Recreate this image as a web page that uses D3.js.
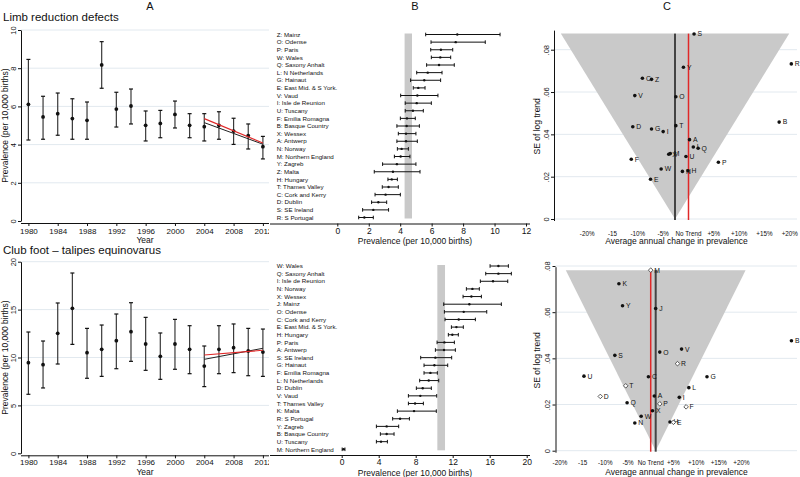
<!DOCTYPE html>
<html><head><meta charset="utf-8">
<script src="https://cdn.jsdelivr.net/npm/d3@7"></script>
<style>body{margin:0;background:#fff}svg text{font-family:"Liberation Sans",Arial,sans-serif;fill:#111}</style>
</head><body><svg id="c" width="800" height="477"></svg>
<script>
// ---------------- DATA ----------------
const years = [1980,1982,1984,1986,1988,1990,1992,1994,1996,1998,2000,2002,2004,2006,2008,2010,2012];
const yearTicks = [1980,1984,1988,1992,1996,2000,2004,2008,2012];
const trendYears = [2004, 2012];

const limbEst = [6.11,5.45,5.62,5.36,5.27,8.17,5.86,6.02,5.01,5.11,5.58,5.01,4.94,5.01,4.71,4.47,3.89];
const limbLo  = [4.24,4.28,4.49,4.28,4.28,6.95,4.92,5.08,4.19,4.36,4.87,4.36,4.19,4.28,4.01,3.77,3.25];
const limbHi  = [8.46,6.53,6.70,6.40,6.23,9.39,6.74,6.91,5.76,5.79,6.28,5.62,5.62,5.72,5.38,5.08,4.43];
const limbTrendRed = [5.36, 4.08];
const limbTrendBlack = [5.15, 4.02];
const limbYTicks = [0,2,4,6,8,10];

const clubEst = [9.46,9.25,12.52,15.13,10.5,10.85,11.76,12.70,11.41,10.12,11.41,10.85,9.11,10.85,11.03,10.68,10.57];
const clubLo  = [6.16,6.82,9.32,11.37,7.83,8.03,8.83,9.6,8.66,7.72,8.77,8.31,6.96,8.31,8.42,8.10,8.03];
const clubHi  = [12.66,11.72,15.69,18.82,13.04,13.39,14.54,15.72,14.19,12.56,13.98,13.32,11.2,13.32,13.5,13.04,12.97];
const clubTrendRed = [10.26, 10.75];
const clubTrendBlack = [9.81, 10.96];
const clubYTicks = [0,5,10,15,20];

const limbRegions = ["Z: Mainz","O: Odense","P: Paris","W: Wales","Q: Saxony Anhalt","L: N Netherlands","G: Hainaut","E: East Mid. & S York.","V: Vaud","I: Isle de Reunion","U: Tuscany","F: Emilia Romagna","B: Basque Country","X: Wessex","A: Antwerp","N: Norway","M: Northern England","Y: Zagreb","Z: Malta","H: Hungary","T: Thames Valley","C: Cork and Kerry","D: Dublin","S: SE Ireland","R: S Portugal"];
const limbRegLo  = [5.62,5.96,5.94,5.98,5.68,5.05,4.66,4.83,4.03,4.32,4.32,4.01,3.79,3.88,3.79,3.82,3.63,2.88,2.35,3.22,2.86,2.40,2.18,1.61,1.36];
const limbRegEst = [7.63,7.53,6.59,6.55,6.47,5.75,5.53,5.15,5.09,5.05,4.81,4.43,4.41,4.37,4.37,4.09,4.03,3.79,3.54,3.46,3.26,3.07,2.61,2.29,1.72];
const limbRegHi  = [10.35,9.41,7.34,7.21,7.44,6.66,6.57,5.58,6.40,5.98,5.47,4.96,5.22,5.00,5.09,4.52,4.62,5.00,5.26,3.82,3.88,4.01,3.14,3.26,2.29];
const limbPooledBand = [4.28, 4.75];
const limbBTicks = [0,2,4,6,8,10,12];

const clubRegions = ["W: Wales","Q: Saxony Anhalt","I: Isle de Reunion","N: Norway","X: Wessex","J: Mainz","O: Odense","C: Cork and Kerry","E: East Mid. & S York.","H: Hungary","P: Paris","A: Antwerp","S: SE Ireland","G: Hainaut","F: Emilia Romagna","L: N Netherlands","D: Dublin","V: Vaud","T: Thames Valley","K: Malta","R: S Portugal","Y: Zagreb","B: Basque Country","U: Tuscany","M: Northern England"];
const clubRegLo  = [16.04,15.57,14.99,13.48,13.12,11.03,11.10,11.17,11.86,11.53,10.31,10.13,8.54,8.90,8.90,8.43,8.07,7.21,7.21,6.02,5.51,3.75,4.18,3.75,0.05];
const clubRegEst = [16.94,16.94,16.36,14.13,14.02,13.80,13.19,12.65,12.40,11.96,11.10,11.06,10.13,10.02,9.59,9.41,8.76,8.50,7.93,7.82,6.31,4.86,4.86,4.25,0.2];
const clubRegHi  = [18.02,18.34,17.95,14.88,15.10,17.26,15.68,14.45,13.15,12.61,12.18,12.29,11.89,11.46,10.34,10.49,9.69,10.27,8.83,10.23,7.32,6.16,5.66,4.94,0.35];
const clubPooledBand = [10.34, 11.17];
const clubBTicks = [0,4,8,12,16,20];

const cTickVals = [-20,-15,-10,-5,0,5,10,15,20];
const cTickLabels = ["-20%","-15","-10%","-5%","No Trend","+5%","+10%","+15%","+20%"];
const seTicks = [0,0.02,0.04,0.06,0.08];

const limbCodes = ["S","R","Y","C","Z","V","O","T","B","D","G","I","A","L","Q","X","M","U","F","P","W","N","H","E"];
const limbPct   = [1.1,20.3,-1.0,-9.1,-7.3,-10.6,-2.5,-2.5,17.9,-11.0,-7.3,-5.0,0.2,0.95,1.9,-3.9,-3.6,-0.5,-11.3,5.9,-5.4,-1.2,-0.1,-7.5];
const limbSE    = [0.0874,0.0733,0.0717,0.0665,0.0660,0.0583,0.0578,0.0441,0.0458,0.0436,0.0425,0.0413,0.0375,0.0340,0.0334,0.0306,0.0309,0.0295,0.0282,0.0268,0.0236,0.0225,0.0228,0.0188];
const limbHollow = limbCodes.map(() => false);
const limbPooledPct = -2.66, limbFunnelTopSE = 0.0876, limbFunnelHalf = 22.55;

const clubCodes = ["M","K","Y","J","B","V","O","S","R","U","C","G","T","L","D","A","I","Q","P","F","X","W","N","H","E"];
const clubPct   = [0.0,-7.0,-6.2,1.1,31.0,6.8,2.0,-7.9,5.9,-14.7,-0.5,12.4,-5.5,8.4,-11.1,0.8,6.3,-5.2,2.0,7.8,0.4,-2.1,-3.5,4.25,5.0];
const clubSE    = [0.0782,0.0723,0.0628,0.0616,0.0476,0.0440,0.0427,0.0413,0.0377,0.0323,0.0320,0.0320,0.0281,0.0273,0.0235,0.0237,0.0231,0.0208,0.0203,0.0190,0.0173,0.0149,0.0120,0.0124,0.0123];
const clubHollow = [true,false,false,false,false,false,false,false,true,false,false,false,true,false,true,false,false,false,true,true,false,false,false,false,true];
const clubPooledPct = 1.1, clubFunnelTopSE = 0.0782, clubFunnelHalf = 19.8;

// ---------------- DRAWING ----------------
const svg = d3.select("#c");
svg.append("rect").attr("width",800).attr("height",477).attr("fill","#fff");
const GRID = "#e2e9ef", INK = "#111";
svg.append("defs").append("clipPath").attr("id","clipA").append("rect").attr("x",0).attr("y",0).attr("width",269).attr("height",477);

function styleAxis(sel, fs){
  sel.attr("font-family",null).attr("font-size",null);
  sel.selectAll("text").attr("font-size",fs).style("fill",INK);
  sel.selectAll("line").attr("stroke",INK);
  sel.selectAll("path").attr("stroke",INK);
}

function panelA(c){
  const g = svg.append("g").attr("clip-path","url(#clipA)");
  const x = d3.scaleLinear().domain([1980,2012]).range([28.4,262.9]);
  const y = d3.scaleLinear().domain([0,c.yTicks[c.yTicks.length-1]]).range([c.y0,c.yTop]);
  g.selectAll(null).data(c.yTicks.filter(v=>v>0)).join("line")
    .attr("x1",21).attr("x2",270).attr("y1",d=>y(d)).attr("y2",d=>y(d)).attr("stroke",GRID).attr("stroke-width",1);
  const ya = g.append("g").attr("transform","translate(21,0)")
    .call(d3.axisLeft(y).tickValues(c.yTicks).tickSize(3).tickSizeOuter(0));
  styleAxis(ya,7.5);
  ya.selectAll("text").attr("x",0).attr("y",-5.5).attr("dy",0).attr("text-anchor","middle").attr("transform","rotate(-90)");
  const axY = c.y0+2;
  const xa = g.append("g").attr("transform",`translate(0,${axY})`)
    .call(d3.axisBottom(x).tickValues(yearTicks).tickSize(3).tickFormat(d3.format("d")));
  xa.select(".domain").remove();
  styleAxis(xa,8);
  xa.selectAll("text").attr("dy",0).attr("y",c.tickLabY);
  g.append("line").attr("x1",21).attr("x2",270).attr("y1",axY+0.5).attr("y2",axY+0.5).attr("stroke",INK);
  g.append("text").attr("x",145).attr("y",c.yearY).attr("text-anchor","middle").attr("font-size",8.5).text("Year");
  g.append("text").attr("transform",`translate(7.5,${(c.y0+c.yTop)/2}) rotate(-90)`).attr("text-anchor","middle").attr("font-size",8.5).text("Prevalence (per 10,000 births)");
  g.append("text").attr("x",3).attr("y",c.titleY).attr("font-size",11.5).text(c.title);
  const bars = g.append("g").attr("stroke","#3a3a3a").attr("stroke-width",1.2);
  years.forEach((yr,i)=>{
    bars.append("line").attr("x1",x(yr)).attr("x2",x(yr)).attr("y1",y(c.lo[i])).attr("y2",y(c.hi[i]));
    bars.append("line").attr("x1",x(yr)-2).attr("x2",x(yr)+2).attr("y1",y(c.lo[i])).attr("y2",y(c.lo[i])).attr("stroke",INK);
    bars.append("line").attr("x1",x(yr)-2).attr("x2",x(yr)+2).attr("y1",y(c.hi[i])).attr("y2",y(c.hi[i])).attr("stroke",INK);
  });
  g.selectAll(null).data(years).join("circle").attr("cx",d=>x(d)).attr("cy",(d,i)=>y(c.est[i])).attr("r",1.9).attr("fill",INK);
  const ln = d3.line().x((d,i)=>x(trendYears[i])).y(d=>y(d));
  g.append("path").attr("d",ln(c.black)).attr("stroke","#222").attr("stroke-width",1).attr("fill","none");
  g.append("path").attr("d",ln(c.red)).attr("stroke","#e02828").attr("stroke-width",1.1).attr("fill","none");
}

function panelB(c){
  const g = svg.append("g");
  const x = d3.scaleLinear().domain([0,c.ticks[c.ticks.length-1]]).range([c.x0,c.x1]);
  const y = d3.scalePoint().domain(d3.range(c.labels.length)).range([c.yFirst,c.yLast]);
  g.append("rect").attr("x",x(c.band[0])).attr("width",x(c.band[1])-x(c.band[0]))
    .attr("y",c.yFirst-1).attr("height",c.yLast-c.yFirst+2).attr("fill","#c9c9c9");
  const xa = g.append("g").attr("transform",`translate(0,${c.axisY})`)
    .call(d3.axisBottom(x).tickValues(c.ticks).tickSize(3));
  xa.select(".domain").remove();
  styleAxis(xa,8.5);
  xa.selectAll("text").attr("dy",0).attr("y",c.tickLabY);
  g.append("line").attr("x1",270).attr("x2",530).attr("y1",c.axisY+0.5).attr("y2",c.axisY+0.5).attr("stroke",INK);
  g.append("text").attr("x",415).attr("y",c.titleY).attr("text-anchor","middle").attr("font-size",8.5).text("Prevalence (per 10,000 births)");
  g.selectAll(null).data(c.labels).join("text").attr("x",276.7).attr("y",(d,i)=>y(i)+2.2).attr("font-size",6.2).text(d=>d);
  const b = g.append("g").attr("stroke",INK).attr("stroke-width",1);
  c.labels.forEach((d,i)=>{
    const yy=y(i);
    b.append("line").attr("x1",x(c.lo[i])).attr("x2",x(c.hi[i])).attr("y1",yy).attr("y2",yy);
    b.append("line").attr("x1",x(c.lo[i])).attr("x2",x(c.lo[i])).attr("y1",yy-1.8).attr("y2",yy+1.8);
    b.append("line").attr("x1",x(c.hi[i])).attr("x2",x(c.hi[i])).attr("y1",yy-1.8).attr("y2",yy+1.8);
  });
  g.selectAll(null).data(c.est).join("circle").attr("cx",d=>x(d)).attr("cy",(d,i)=>y(i)).attr("r",1.2).attr("fill",INK);
}

function panelC(c){
  const g = svg.append("g");
  const x = d3.scaleLinear().domain([-20,20]).range([c.xm20,c.xp20]);
  const y = d3.scaleLinear().domain([0,0.08]).range([c.y0,c.y08]);
  g.selectAll(null).data(seTicks).join("line").attr("x1",c.axisX).attr("x2",797)
    .attr("y1",d=>y(d)).attr("y2",d=>y(d)).attr("stroke",GRID);
  const tri = [[c.pooled-c.half,c.topSE],[c.pooled+c.half,c.topSE],[c.pooled,0]];
  g.append("path").attr("d","M"+tri.map(p=>[x(p[0]),y(p[1])].join(",")).join("L")+"Z").attr("fill","#c9c9c9");
  g.append("line").attr("x1",x(c.pooled)).attr("x2",x(c.pooled)).attr("y1",y(0)+1).attr("y2",y(c.topSE)).attr("stroke","#444").attr("stroke-width",2);
  g.append("line").attr("x1",x(0)).attr("x2",x(0)).attr("y1",y(0)+1).attr("y2",y(c.topSE)).attr("stroke","#e02828").attr("stroke-width",1.5);
  const ya = g.append("g").attr("transform",`translate(${c.axisX},0)`)
    .call(d3.axisLeft(y).tickValues(seTicks).tickSize(3).tickFormat(d=>d===0?"0":d3.format(".2f")(d).replace(/^0/,"")));
  ya.select(".domain").remove();
  styleAxis(ya,7.5);
  ya.selectAll("text").attr("x",0).attr("y",-5.5).attr("dy",0).attr("text-anchor","middle").attr("transform","rotate(-90)");
  g.append("line").attr("x1",c.axisX+0.5).attr("x2",c.axisX+0.5).attr("y1",y(0)+2).attr("y2",y(c.topSE)-3).attr("stroke",INK);
  g.append("text").attr("transform",`translate(539.5,${(y(0)+y(c.topSE))/2}) rotate(-90)`).attr("text-anchor","middle").attr("font-size",8.5).text("SE of log trend");
  g.selectAll(null).data(cTickVals).join("text").attr("x",d=>x(d)).attr("y",c.tickLabY).attr("text-anchor","middle").attr("font-size",6.3).text((d,i)=>cTickLabels[i]);
  g.append("text").attr("x",676.5).attr("y",c.titleY).attr("text-anchor","middle").attr("font-size",8.5).text("Average annual change in prevalence");
  g.selectAll(null).data(c.codes).join("text").attr("x",(d,i)=>x(c.pct[i])+3.5).attr("y",(d,i)=>y(c.se[i])+2.4).attr("font-size",6.8).text(d=>d);
  c.codes.forEach((d,i)=>{
    const px=x(c.pct[i]), py=y(c.se[i]);
    if(c.hollow[i]){
      g.append("path").attr("d",`M${px},${py-2.3}L${px+2.3},${py}L${px},${py+2.3}L${px-2.3},${py}Z`).attr("fill","#fff").attr("stroke","#333").attr("stroke-width",0.8);
    } else {
      g.append("circle").attr("cx",px).attr("cy",py).attr("r",1.8).attr("fill",INK);
    }
  });
}

[["A",150],["B",415],["C",667]].forEach(([t,xx])=>svg.append("text").attr("x",xx).attr("y",10).attr("text-anchor","middle").attr("font-size",11).text(t));

panelA({title:"Limb reduction defects",titleY:21,y0:221,yTop:30,yTicks:limbYTicks,est:limbEst,lo:limbLo,hi:limbHi,red:limbTrendRed,black:limbTrendBlack,yearY:243,tickLabY:11});
panelA({title:"Club foot \u2013 talipes equinovarus",titleY:254,y0:453.3,yTop:261.7,yTicks:clubYTicks,est:clubEst,lo:clubLo,hi:clubHi,red:clubTrendRed,black:clubTrendBlack,yearY:475,tickLabY:9.5});

panelB({labels:limbRegions,lo:limbRegLo,est:limbRegEst,hi:limbRegHi,band:limbPooledBand,ticks:limbBTicks,x0:337.3,x1:526,yFirst:34.5,yLast:217.5,axisY:223.5,tickLabY:10,titleY:244});
panelB({labels:clubRegions,lo:clubRegLo,est:clubRegEst,hi:clubRegHi,band:clubPooledBand,ticks:clubBTicks,x0:341.7,x1:526.7,yFirst:266,yLast:449.3,axisY:455,tickLabY:10,titleY:475.5});

panelC({codes:limbCodes,pct:limbPct,se:limbSE,hollow:limbHollow,pooled:limbPooledPct,topSE:limbFunnelTopSE,half:limbFunnelHalf,xm20:587.2,xp20:789.8,y0:219,y08:49.7,axisX:554,tickLabY:235.5,titleY:243.5});
panelC({codes:clubCodes,pct:clubPct,se:clubSE,hollow:clubHollow,pooled:clubPooledPct,topSE:clubFunnelTopSE,half:clubFunnelHalf,xm20:559.9,xp20:741.5,y0:450.7,y08:266,axisX:555.5,tickLabY:465,titleY:474.5});
</script></body></html>
